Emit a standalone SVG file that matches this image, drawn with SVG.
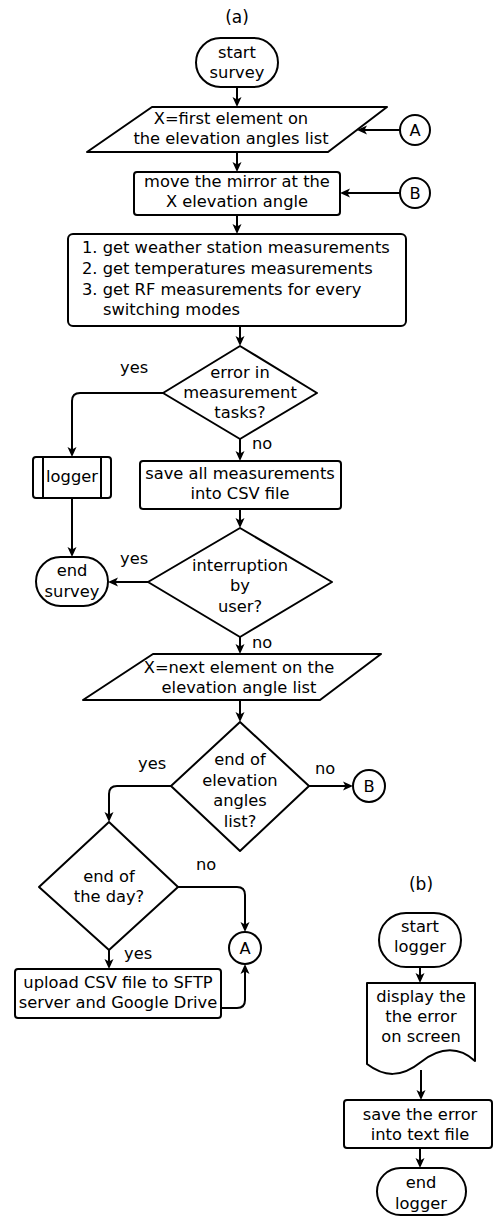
<svg xmlns="http://www.w3.org/2000/svg" width="493" height="1220" viewBox="0 0 493 1220">
<style>
.s{fill:#fff;stroke:#000;stroke-width:2;stroke-linejoin:round}
.c{fill:none;stroke:#000;stroke-width:2}
text{font-family:"DejaVu Sans","Verdana",sans-serif;font-size:16.3px;fill:#000}
.m{text-anchor:middle}
</style>
<defs>
<marker id="ar" viewBox="0 0 10 10" refX="5" refY="5" markerWidth="10" markerHeight="10" markerUnits="userSpaceOnUse" orient="auto">
<path d="M0,0.5 L10,5 L0,9.5 L2.5,5 Z" fill="#000"/>
</marker>
</defs>
<rect width="493" height="1220" fill="#fff"/>
<text class="m" x="237" y="23" style="font-size:17px">(a)</text>
<text class="m" x="421" y="890" style="font-size:17px">(b)</text>

<g id="connectors">
<path class="c" d="M237,87 V102" marker-end="url(#ar)"/>
<path class="c" d="M400,130 H362" marker-end="url(#ar)"/>
<path class="c" d="M237,152 V167" marker-end="url(#ar)"/>
<path class="c" d="M400,193 H345" marker-end="url(#ar)"/>
<path class="c" d="M237,215 V229" marker-end="url(#ar)"/>
<path class="c" d="M240,326 V341" marker-end="url(#ar)"/>
<path class="c" d="M163,393 H80 Q72,393 72,401 V452" marker-end="url(#ar)"/>
<path class="c" d="M72,498 V552" marker-end="url(#ar)"/>
<path class="c" d="M240,439 V456" marker-end="url(#ar)"/>
<path class="c" d="M240,509 V523" marker-end="url(#ar)"/>
<path class="c" d="M148,582 H113" marker-end="url(#ar)"/>
<path class="c" d="M240,637 V649" marker-end="url(#ar)"/>
<path class="c" d="M240,700 V717" marker-end="url(#ar)"/>
<path class="c" d="M309,786 H348" marker-end="url(#ar)"/>
<path class="c" d="M171,786 H117 Q109,786 109,794 V817" marker-end="url(#ar)"/>
<path class="c" d="M178,887 H237 Q245,887 245,895 V927" marker-end="url(#ar)"/>
<path class="c" d="M109,950 V964" marker-end="url(#ar)"/>
<path class="c" d="M221,1008 H237 Q245,1008 245,1000 V969" marker-end="url(#ar)"/>
<path class="c" d="M420,967 V978" marker-end="url(#ar)"/>
<path class="c" d="M421,1070 V1095" marker-end="url(#ar)"/>
<path class="c" d="M420,1148 V1163" marker-end="url(#ar)"/>
<text x="120" y="373">yes</text>
<text x="252" y="449">no</text>
<text x="120" y="564">yes</text>
<text x="252" y="648">no</text>
<text x="138" y="769">yes</text>
<text x="315" y="774">no</text>
<text x="196" y="870">no</text>
<text x="124" y="959">yes</text>
</g>

<g id="start-survey">
<rect class="s" x="196" y="38" width="82" height="49" rx="24.5"/>
<text class="m" x="237" y="58">start</text>
<text class="m" x="237" y="78">survey</text>
</g>
<g id="first-element">
<path class="s" d="M152,107 H387 L328,152 H87 Z"/>
<text class="m" x="231" y="124">X=first element on</text>
<text class="m" x="231" y="144">the elevation angles list</text>
</g>
<g id="conn-A-top">
<circle class="s" cx="415" cy="130" r="15"/>
<text class="m" x="415" y="136">A</text>
</g>
<g id="move-mirror">
<rect class="s" x="134" y="172" width="206" height="43" rx="3"/>
<text class="m" x="237" y="187">move the mirror at the</text>
<text class="m" x="237" y="207">X elevation angle</text>
</g>
<g id="conn-B-top">
<circle class="s" cx="415" cy="193" r="15"/>
<text class="m" x="415" y="199">B</text>
</g>
<g id="measurements">
<rect class="s" x="68" y="234" width="338" height="92" rx="5"/>
<text x="82" y="253">1. get weather station measurements</text>
<text x="82" y="274">2. get temperatures measurements</text>
<text x="82" y="295">3. get RF measurements for every</text>
<text x="103" y="315">switching modes</text>
</g>
<g id="error-decision">
<path class="s" d="M240,346 L317,393 L240,439 L163,393 Z"/>
<text class="m" x="240" y="378">error in</text>
<text class="m" x="240" y="398">measurement</text>
<text class="m" x="240" y="418">tasks?</text>
</g>
<g id="logger">
<rect class="s" x="33" y="457" width="78" height="41" rx="3"/>
<path class="c" d="M43,457 V498 M101,457 V498"/>
<text class="m" x="72" y="482">logger</text>
</g>
<g id="end-survey">
<rect class="s" x="36" y="557" width="72" height="49" rx="24.5"/>
<text class="m" x="72" y="576">end</text>
<text class="m" x="72" y="597">survey</text>
</g>
<g id="save-csv">
<rect class="s" x="140" y="461" width="201" height="48" rx="3"/>
<text class="m" x="240" y="479">save all measurements</text>
<text class="m" x="240" y="499">into CSV file</text>
</g>
<g id="interruption">
<path class="s" d="M240,528 L332,582 L240,637 L148,582 Z"/>
<text class="m" x="240" y="571">interruption</text>
<text class="m" x="240" y="591">by</text>
<text class="m" x="240" y="612">user?</text>
</g>
<g id="next-element">
<path class="s" d="M153,654 H381 L320,700 H83 Z"/>
<text class="m" x="239" y="673">X=next element on the</text>
<text class="m" x="239" y="693">elevation angle list</text>
</g>
<g id="end-of-list">
<path class="s" d="M240,722 L309,786 L240,851 L171,786 Z"/>
<text class="m" x="240" y="765">end of</text>
<text class="m" x="240" y="786">elevation</text>
<text class="m" x="240" y="806">angles</text>
<text class="m" x="240" y="827">list?</text>
</g>
<g id="conn-B-bottom">
<circle class="s" cx="369" cy="786" r="16"/>
<text class="m" x="369" y="792">B</text>
</g>
<g id="end-of-day">
<path class="s" d="M109,822 L178,887 L109,950 L39,887 Z"/>
<text class="m" x="109" y="882">end of</text>
<text class="m" x="109" y="902">the day?</text>
</g>
<g id="conn-A-bottom">
<circle class="s" cx="245" cy="948" r="16"/>
<text class="m" x="245" y="954">A</text>
</g>
<g id="upload">
<rect class="s" x="15" y="969" width="206" height="49" rx="3"/>
<text class="m" x="118" y="988">upload CSV file to SFTP</text>
<text class="m" x="118" y="1008">server and Google Drive</text>
</g>
<g id="start-logger">
<rect class="s" x="379" y="913" width="82" height="54" rx="27"/>
<text class="m" x="420" y="932">start</text>
<text class="m" x="420" y="952">logger</text>
</g>
<g id="display-error">
<path class="s" d="M367,983 H475 V1061 C460,1047 441,1046 421,1062 C401,1078 384,1077 367,1064 Z"/>
<text class="m" x="421" y="1002">display the</text>
<text class="m" x="421" y="1022">the error</text>
<text class="m" x="421" y="1042">on screen</text>
</g>
<g id="save-error">
<rect class="s" x="344" y="1100" width="148" height="48" rx="3"/>
<text class="m" x="420" y="1120">save the error</text>
<text class="m" x="420" y="1140">into text file</text>
</g>
<g id="end-logger">
<rect class="s" x="377" y="1168" width="89" height="47" rx="23.5"/>
<text class="m" x="421" y="1188">end</text>
<text class="m" x="421" y="1209">logger</text>
</g>
</svg>
